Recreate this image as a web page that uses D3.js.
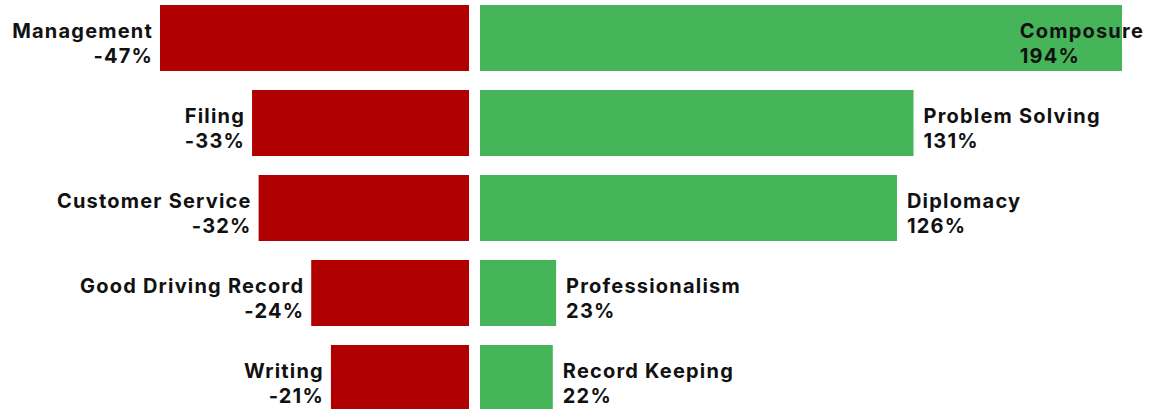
<!DOCTYPE html>
<html>
<head>
<meta charset="utf-8">
<script src="https://cdn.jsdelivr.net/npm/d3@7"></script>
<style>
  html, body { margin: 0; padding: 0; background: #fff; overflow: hidden; }
  svg { display: block; }
  text { font-family: Inter, Lato, sans-serif; font-weight: 700; font-size: 20px; letter-spacing: 1.2px; fill: #111; }
</style>
</head>
<body>
<svg id="chart" width="1157" height="409"></svg>
<script>
// Skills that decline (left) and grow (right), percentage change
const lossSkills = ["Management", "Filing", "Customer Service", "Good Driving Record", "Writing"];
const lossValues = [-47, -33, -32, -24, -21];
const gainSkills = ["Composure", "Problem Solving", "Diplomacy", "Professionalism", "Record Keeping"];
const gainValues = [194, 131, 126, 23, 22];

const width = 1157, height = 409;
const svg = d3.select("#chart");

const rows = d3.range(lossSkills.length);
const y = d3.scaleBand().domain(rows).range([5, 411]).paddingInner(0.2235).paddingOuter(0);

// Each side has its own scale, anchored at the central gap
const xLoss = d3.scaleLinear().domain([0, 47]).range([469, 160]);
const xGain = d3.scaleLinear().domain([0, 194]).range([480, 1122]);

const lossColor = "#b00000";
const gainColor = "#46b55a";

const fmt = v => `${v}%`;

// Left bars
svg.append("g").selectAll("rect").data(rows).join("rect")
  .attr("x", i => xLoss(Math.abs(lossValues[i])))
  .attr("y", i => y(i))
  .attr("width", i => xLoss(0) - xLoss(Math.abs(lossValues[i])))
  .attr("height", y.bandwidth())
  .attr("fill", lossColor);

// Right bars
svg.append("g").selectAll("rect").data(rows).join("rect")
  .attr("x", xGain(0))
  .attr("y", i => y(i))
  .attr("width", i => xGain(gainValues[i]) - xGain(0))
  .attr("height", y.bandwidth())
  .attr("fill", gainColor);

const lineGap = 25;
const baseShift = 0;

// Each label is two separate text lines: skill name, then the change
function addLabel(g, x, yPos, name, value, anchor) {
  g.append("text").attr("x", x).attr("y", yPos + baseShift).attr("text-anchor", anchor).text(name);
  g.append("text").attr("x", x).attr("y", yPos + baseShift + lineGap).attr("text-anchor", anchor).text(fmt(value));
}

// Left labels, right-aligned just outside each bar
const lossG = svg.append("g");
rows.forEach(i => {
  addLabel(lossG, xLoss(Math.abs(lossValues[i])) - 7, y(i) + y.bandwidth() / 2, lossSkills[i], lossValues[i], "end");
});

// Right labels, left-aligned after each bar, pulled back inside when they would overflow
const gainG = svg.append("g");
rows.forEach(i => {
  const probe = gainG.append("text").text(gainSkills[i]);
  const w = probe.node().getComputedTextLength();
  probe.remove();
  const x = Math.min(xGain(gainValues[i]) + 10, width - 13 - w);
  addLabel(gainG, x, y(i) + y.bandwidth() / 2, gainSkills[i], gainValues[i], "start");
});
</script>
</body>
</html>
